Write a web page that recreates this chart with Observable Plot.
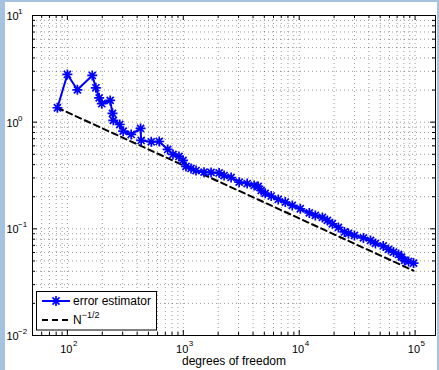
<!DOCTYPE html>
<html><head><meta charset="utf-8">
<script src="https://cdn.jsdelivr.net/npm/d3@7"></script>
<script src="https://cdn.jsdelivr.net/npm/@observablehq/plot@0.6"></script>
<style>
html,body{margin:0;padding:0;background:#a5c3e1;width:439px;height:370px;overflow:hidden;}
#bg{position:absolute;left:5px;top:2px;width:432px;height:368px;background:#fff;}
#chart{position:absolute;left:0;top:0;}
</style></head><body><div id="bg"></div><div id="chart"></div>
<script>
const dof = [82,100,122,164,176,188,198,234,245,249,283,303,355,428,433,529,620,733,815,918,994,1055,1166,1288,1510,1736,2037,2249,2586,3034,3557,4089,4426,4699,5091,5737,6596,7584,8715,10220,12230,13780,15850,17500,19330,21790,24550,26600,29960,35840,41220,45500,53090,59000,65170,71970,76430,81150,87900,97000];
const errorEstimator = [1.365,2.80,2.01,2.74,2.10,1.69,1.49,1.60,1.21,1.04,0.951,0.824,0.767,0.873,0.674,0.655,0.659,0.555,0.498,0.477,0.438,0.385,0.368,0.352,0.340,0.338,0.334,0.316,0.303,0.274,0.266,0.255,0.250,0.229,0.215,0.203,0.1886,0.178,0.1657,0.1543,0.141,0.1336,0.128,0.12,0.1116,0.1031,0.0935,0.0906,0.0867,0.0822,0.0778,0.073,0.0691,0.0641,0.0605,0.0575,0.0543,0.0506,0.0495,0.0477];
const refDof = [82, 97000];
const refValue = [1.365, 0.0405];
const xMajor = [100, 1000, 10000, 100000];
const xMinor = [50,60,70,80,90,200,300,400,500,600,700,800,900,2000,3000,4000,5000,6000,7000,8000,9000,20000,30000,40000,50000,60000,70000,80000,90000];
const yMajor = [0.01, 0.1, 1, 10];
const yMinor = [0.02,0.03,0.04,0.05,0.06,0.07,0.08,0.09,0.2,0.3,0.4,0.5,0.6,0.7,0.8,0.9,2,3,4,5,6,7,8,9];
const xTickExp = ["2","3","4","5"];
const yTickExp = ["\u22122","\u22121","0","1"];
const xLabel = "degrees of freedom";
const legendLabels = ["error estimator", "N"];
const legendExp = "\u22121/2";

const series = dof.map((d,i)=>({dof:d, err:errorEstimator[i]}));
const ref = refDof.map((d,i)=>({dof:d, err:refValue[i]}));

const W = 439, H = 370, mL = 32, mR = 4, mT = 15, mB = 35;
const fw = W - mL - mR, fh = H - mT - mB;
const font = "Liberation Sans, Arial, Helvetica, sans-serif";

const asterisk8 = {draw(ctx, size){
  const r = Math.sqrt(size/Math.PI), d = r*Math.SQRT1_2;
  ctx.moveTo(-r,0); ctx.lineTo(r,0); ctx.moveTo(0,-r); ctx.lineTo(0,r);
  ctx.moveTo(-d,-d); ctx.lineTo(d,d); ctx.moveTo(-d,d); ctx.lineTo(d,-d);
}};

const gridStyle = {stroke:"#000", strokeOpacity:0.4, strokeDasharray:"1,3", strokeWidth:1};
const chart = Plot.plot({
  width: W, height: H, marginLeft: mL, marginRight: mR, marginTop: mT, marginBottom: mB,
  style: {background:"transparent", fontFamily: font},
  x: {type:"log", domain:[50, 150000], axis:null},
  y: {type:"log", domain:[0.01, 10], axis:null},
  marks: [
    Plot.gridX(xMajor.concat(xMinor), gridStyle),
    Plot.gridY(yMajor.concat(yMinor), gridStyle),
    Plot.tickX(xMajor, {x:d=>d, insetTop: fh-5, stroke:"#000"}),
    Plot.tickX(xMajor, {x:d=>d, insetBottom: fh-5, stroke:"#000"}),
    Plot.tickX(xMinor, {x:d=>d, insetTop: fh-3, stroke:"#000"}),
    Plot.tickX(xMinor, {x:d=>d, insetBottom: fh-3, stroke:"#000"}),
    Plot.tickY(yMajor, {y:d=>d, insetRight: fw-5, stroke:"#000"}),
    Plot.tickY(yMajor, {y:d=>d, insetLeft: fw-5, stroke:"#000"}),
    Plot.tickY(yMinor, {y:d=>d, insetRight: fw-3, stroke:"#000"}),
    Plot.tickY(yMinor, {y:d=>d, insetLeft: fw-3, stroke:"#000"}),
    Plot.frame({stroke:"#000", strokeWidth:1}),
    Plot.line(ref, {x:"dof", y:"err", stroke:"#000", strokeWidth:2, strokeDasharray:"6,4"}),
    Plot.line(series, {x:"dof", y:"err", stroke:"#0000ff", strokeWidth:2}),
    Plot.dot(series, {x:"dof", y:"err", symbol: asterisk8, r:5, stroke:"#0000ff", fill:"none", strokeWidth:1.7}),
    Plot.text(xMajor, {x:d=>d, text:()=> "10", frameAnchor:"bottom", lineAnchor:"bottom", textAnchor:"end", dx:5, dy:17.5, fontSize:11, fill:"#000"}),
    Plot.text(xMajor, {x:d=>d, text:(d,i)=> xTickExp[i], frameAnchor:"bottom", lineAnchor:"bottom", textAnchor:"start", dx:5.5, dy:10.5, fontSize:8, fill:"#000"}),
    Plot.text(yMajor, {y:d=>d, text:()=> "10", frameAnchor:"left", lineAnchor:"bottom", textAnchor:"start", dx:-26, dy:4.5, fontSize:11, fill:"#000"}),
    Plot.text(yMajor, {y:d=>d, text:(d,i)=> yTickExp[i], frameAnchor:"left", lineAnchor:"bottom", textAnchor:"start", dx:-14.5, dy:-1.5, fontSize:8, fill:"#000"}),
    Plot.text([xLabel], {text:d=>d, frameAnchor:"bottom", lineAnchor:"bottom", dy:29.7, fontSize:12, fill:"#000"})
  ]
});

// legend
const svg = d3.select(chart);
const lg = svg.append("g").attr("font-family", font).attr("font-size", 12).attr("text-anchor","start");
lg.append("rect").attr("x",36.5).attr("y",291.5).attr("width",120).attr("height",38.5).attr("fill","#fff").attr("stroke","#000");
lg.append("line").attr("x1",42).attr("x2",70).attr("y1",301).attr("y2",301).attr("stroke","#0000ff").attr("stroke-width",2);
lg.append("path").attr("transform","translate(56,301)").attr("d", d3.symbol(asterisk8, 5*5*Math.PI)()).attr("stroke","#0000ff").attr("fill","none").attr("stroke-width",1.7);
lg.append("text").attr("x",73).attr("y",305).attr("text-anchor","start").text(legendLabels[0]);
lg.append("line").attr("x1",42).attr("x2",70).attr("y1",320).attr("y2",320).attr("stroke","#000").attr("stroke-width",2).attr("stroke-dasharray","6,4");
const t2 = lg.append("text").attr("x",73).attr("y",324).attr("text-anchor","start");
t2.append("tspan").text(legendLabels[1]);
t2.append("tspan").attr("dy",-6).attr("font-size",9).text(legendExp);

document.getElementById("chart").appendChild(chart);
</script></body></html>
